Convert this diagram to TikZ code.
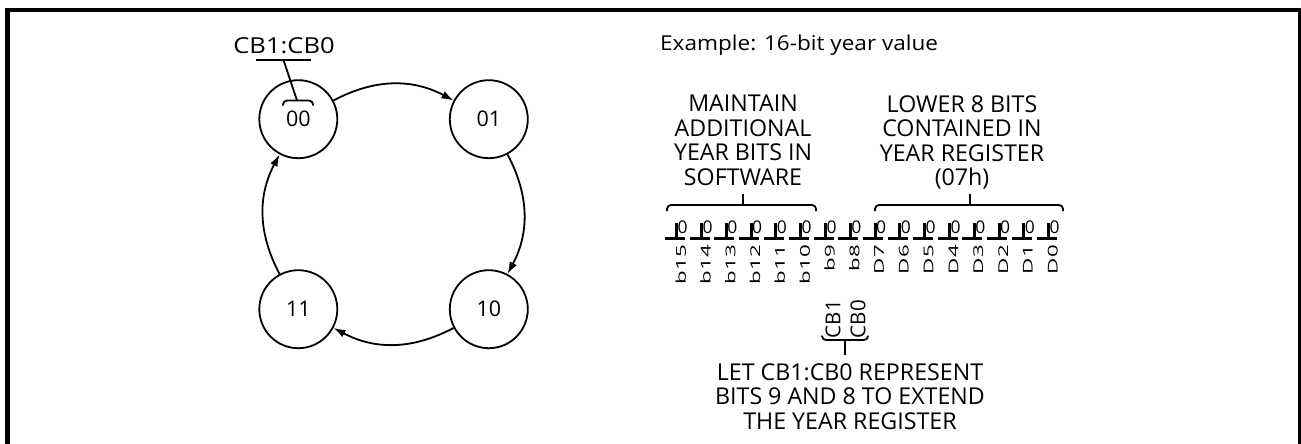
\documentclass[tikz,border=0pt]{standalone}
\usepackage{fontspec}
\setmainfont{Open Sans}
\usetikzlibrary{arrows.meta}

\begin{document}
\begin{tikzpicture}[x=1pt,y=-1pt,
  state/.style={circle, draw, line width=1.8pt, minimum size=78pt, inner sep=0pt,
                font=\fontsize{21.5}{21.5}\selectfont},
  flow/.style={line width=1.8pt, -{Latex[length=12pt,width=8pt]}, bend left=28},
  caps/.style={align=center, inner sep=0pt, font=\fontsize{23.2}{24.5}\selectfont},
  zero/.style={inner sep=0pt, font=\fontsize{17.5}{17.5}\selectfont},
  bitlbl/.style={rotate=90, anchor=east, inner sep=0pt, font=\fontsize{13.5}{13.5}\selectfont},
  cbl/.style={rotate=90, anchor=east, inner sep=0pt, font=\fontsize{20.5}{20.5}\selectfont},
  brace/.style={line width=1.8pt, rounded corners=4pt},
  thin/.style={line width=1.8pt},
  cellbar/.style={line width=3pt},
]
\useasboundingbox (0,0) rectangle (1301,444);

% outer frame (open at the bottom)
\draw[line width=5pt] (7.5,444) -- (7.5,10);
\draw[line width=4pt] (5,10) -- (1299.5,10);
\draw[line width=3pt] (1299.5,8) -- (1299.5,444);

% ---- state diagram of the century bits ----
\node[state] (s00) at (298.3,119.2) {00};
\node[state] (s01) at (488.8,119.2) {01};
\node[state] (s10) at (488.8,309.2) {10};
\node[state] (s11) at (298.3,309.2) {11};

\draw[flow] (s00) to (s01);
\draw[flow] (s01) to (s10);
\draw[flow] (s10) to (s11);
\draw[flow] (s11) to (s00);

% CB1:CB0 callout pointing at the digits of state 00
\node[inner sep=0pt, anchor=base, font=\fontsize{22}{22}\selectfont] (cbname) at (284,54) {\scalebox{1.16}[1]{CB1:CB0}};
\coordinate (ulL) at (256,60);
\coordinate (ulR) at (311,60);
\coordinate (ulM) at (283.5,60);
\coordinate (brM) at (297,100.5);
\draw[thin] (ulL) -- (ulR);
\draw[thin] (ulM) -- (brM);
\draw[brace] (283,105.5) -- (283,100.5) -- (313,100.5) -- (313,105.5);

% ---- 16-bit year value ----
\node[inner sep=0pt, anchor=base west, font=\fontsize{20.5}{20.5}\selectfont] (title) at (660,50.7) {\scalebox{1.1}[1]{Example: 16-bit year value}};

\node[caps, anchor=north] (soft) at (743,95) {MAINTAIN\\ADDITIONAL\\YEAR BITS IN\\SOFTWARE};
\node[caps, anchor=north] (reg) at (962,95) {LOWER 8 BITS\\CONTAINED IN\\YEAR REGISTER\\(07h)};

% braces over the two groups of bits
\coordinate (softStem) at (742.7,194);
\coordinate (regStem) at (970,194);
\draw[brace] (667,211) -- (667,205) -- (816,205) -- (816,211);
\draw[thin] (742.7,205) -- (softStem);
\draw[brace] (875,211) -- (875,205) -- (1063,205) -- (1063,211);
\draw[thin] (970,205) -- (regStem);

% the sixteen bit cells
\foreach \lbl [count=\i from 0] in {b15,b14,b13,b12,b11,b10,b9,b8,D7,D6,D5,D4,D3,D2,D1,D0} {
  \pgfmathsetmacro\cx{682.7+24.8*\i}
  \node[zero] (z\i) at (\cx,227) {0};
  \node[bitlbl] (l\i) at (\cx-2,245) {\scalebox{1.65}[1]{\lbl}};
  \draw[cellbar] (\cx-18,238) -- (\cx+2,238);
  \draw[cellbar] (\cx-6,238) -- (\cx-6,223);
}

% CB1 / CB0 extension bits
\node[cbl] (cb1) at (833,300) {CB1};
\node[cbl] (cb0) at (858,300) {CB0};
\draw[brace] (822,335.5) -- (822,340) -- (868,340) -- (868,335.5);
\coordinate (cbStem) at (845,355);
\draw[thin] (845,340) -- (cbStem);

\node[caps, anchor=north] (note) at (850,363) {LET CB1:CB0 REPRESENT\\BITS 9 AND 8 TO EXTEND\\THE YEAR REGISTER};
\end{tikzpicture}
\end{document}
